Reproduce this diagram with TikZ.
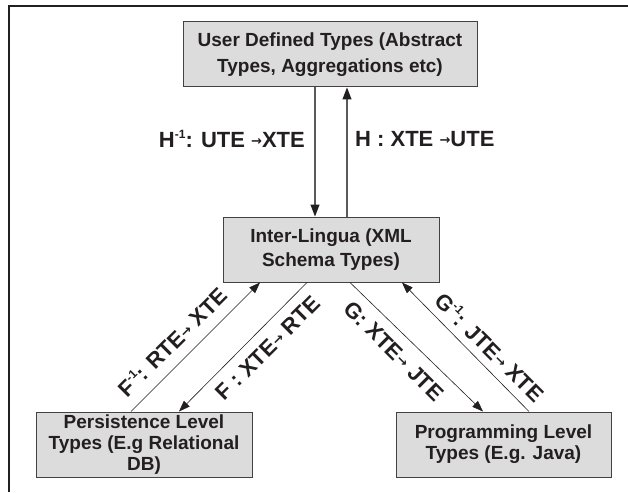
\documentclass[tikz,border=0pt]{standalone}
\usepackage{fontspec}
\setmainfont{Liberation Sans}
\newfontfamily\arrfont{DejaVu Sans}
\usetikzlibrary{arrows.meta}
\definecolor{boxfill}{RGB}{220,220,220}
\definecolor{ink}{RGB}{35,31,32}
\newcommand\supr[1]{\raisebox{0.8ex}{\fontsize{12}{12}\selectfont #1}}
\newcommand\sarr{\raisebox{0.15ex}{\arrfont\fontsize{13}{13}\selectfont →}}
\begin{document}
\begin{tikzpicture}[x=1pt,y=-1pt,
  box/.style={draw=ink!85, line width=1pt, fill=boxfill, align=center, inner sep=0pt,
    text=ink, minimum height=65pt},
  boxfont/.style={font=\bfseries\fontsize{19}{#1}\selectfont},
  lbl/.style={font=\bfseries\fontsize{22}{26}\selectfont, text=ink, inner sep=0pt},
  arr/.style={-{Triangle[length=11pt,width=8pt]}, draw=ink, line width=0.6pt},
  varr/.style={-{Triangle[length=12pt,width=9pt,color=ink]}, draw=gray!70!black, line width=1.1pt}]
\useasboundingbox (0,0) rectangle (628,492);
% frame (cropped)
\draw[line width=2.5pt, ink] (9,492) -- (9,6) -- (628,6);
% boxes
\node[box, boxfont=26, minimum width=294pt] (top) at (330,54.5) {User Defined Types (Abstract\\Types, Aggregations etc)};
\node[box, boxfont=24, minimum width=216pt] (mid) at (331,249.5) {Inter-Lingua (XML\\Schema Types)};
\node[box, boxfont=21, minimum width=216pt] (pers) at (144,444.5) {Persistence Level\\Types (E.g Relational\\DB)};
\node[box, boxfont=21, minimum width=215pt] (prog) at (503.5,444.5) {Programming Level\\Types (E.g. Java)};
% vertical connectors
\draw[varr] ([xshift=-15pt]top.south) -- ([xshift=-15pt]top.south |- mid.north);
\draw[varr] ([xshift=17pt]top.south |- mid.north) -- ([xshift=17pt]top.south);
% diagonal connectors
\draw[arr] ([xshift=-13pt]pers.north) -- ([xshift=-71pt]mid.south);
\draw[arr] ([xshift=-24pt]mid.south) -- ([xshift=35pt]pers.north);
\draw[arr] ([xshift=19pt]mid.south) -- ([xshift=-20.5pt]prog.north);
\draw[arr] ([xshift=25.5pt]prog.north) -- ([xshift=71pt]mid.south);
% labels
\node[lbl, anchor=east] (h1) at (305,139) {H\supr{-1}: UTE \sarr XTE};
\node[lbl, anchor=west] (h2) at (355,139) {H : XTE \sarr UTE};
\node[lbl, rotate=45] (f1) at (172,342) {F\supr{-1}: RTE\sarr\ XTE};
\node[lbl, rotate=45] (f2) at (268,348) {F : XTE\sarr\ RTE};
\node[lbl, rotate=-45] (g1) at (394,351) {G: XTE\sarr\ JTE};
\node[lbl, rotate=-45] (g2) at (490,347) {G\supr{-1}: JTE\sarr\ XTE};
\end{tikzpicture}
\end{document}
